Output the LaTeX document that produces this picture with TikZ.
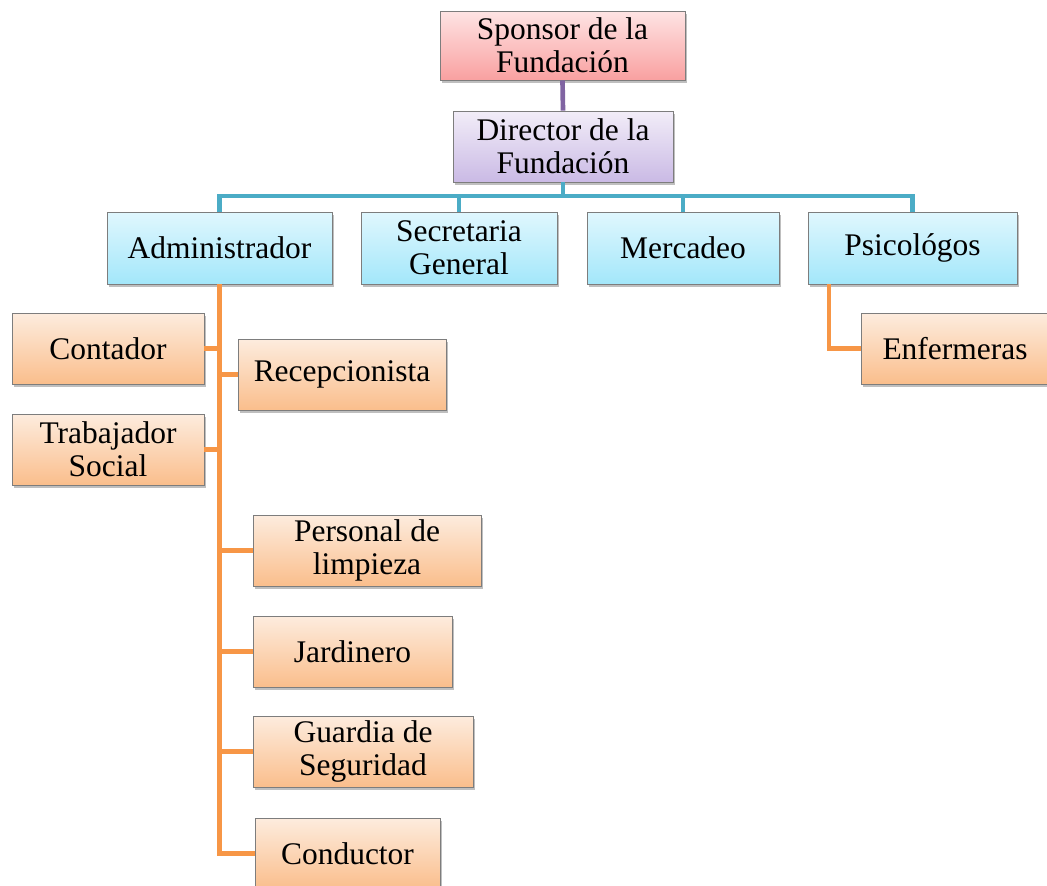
\documentclass[tikz,border=0pt]{standalone}
\usepackage{fontspec}
\setmainfont{Liberation Serif}
\usetikzlibrary{shadows}
\definecolor{pinkT}{RGB}{254,228,228}
\definecolor{pinkB}{RGB}{249,160,160}
\definecolor{purT}{RGB}{242,237,248}
\definecolor{purB}{RGB}{202,186,229}
\definecolor{bluT}{RGB}{224,247,254}
\definecolor{bluB}{RGB}{163,231,250}
\definecolor{orT}{RGB}{253,236,222}
\definecolor{orB}{RGB}{250,190,140}
\definecolor{edgeC}{RGB}{125,125,125}
\definecolor{lnPur}{RGB}{128,100,162}
\definecolor{lnBlu}{RGB}{75,172,198}
\definecolor{lnOr}{RGB}{247,150,70}
\tikzset{
  box/.style={draw=edgeC, line width=0.7pt, inner sep=0pt, align=center,
    font=\fontsize{23.6}{24.8}\selectfont,
    drop shadow={shadow xshift=1.5pt, shadow yshift=-2.5pt, opacity=0.25, fill=black}},
  pinkbox/.style={box, top color=pinkT, bottom color=pinkB},
  purbox/.style={box, top color=purT, bottom color=purB},
  blubox/.style={box, top color=bluT, bottom color=bluB},
  orbox/.style={box, top color=orT, bottom color=orB},
  sz/.style 2 args={minimum width=#1, minimum height=#2},
  purline/.style={draw=lnPur, line width=3.5pt},
  bluline/.style={draw=lnBlu, line width=3.5pt},
  orline/.style={draw=lnOr, line width=3.5pt}
}
\begin{document}
\begin{tikzpicture}[x=0.75pt, y=-0.75pt]
\useasboundingbox (0,0) rectangle (1047,886);
\coordinate (busY) at (0,196);
\node[pinkbox, sz={183.75pt}{51.75pt}] (spo) at (562.5,45.5) {Sponsor de la\\Fundación};
\node[purbox, sz={165pt}{53.25pt}] (dir) at (563,146.5) {Director de la\\Fundación};
\node[blubox, sz={168.75pt}{54pt}] (adm) at (219.5,248) {Administrador};
\node[blubox, sz={147pt}{54pt}] (sec) at (459,248) {Secretaria\\General};
\node[blubox, sz={144pt}{54pt}] (mer) at (683,248) {Mercadeo};
\node[blubox, sz={156.75pt}{54pt}] (psi) at (912.5,248) {Psicológos};
\node[orbox, sz={144pt}{53.25pt}] (con) at (108,348.5) {Contador};
\node[orbox, sz={156pt}{53.25pt}] (rec) at (342,374.5) {Recepcionista};
\node[orbox, sz={144pt}{53.25pt}] (tra) at (108,449.5) {Trabajador\\Social};
\node[orbox, sz={171pt}{53.25pt}] (per) at (367,550.5) {Personal de\\limpieza};
\node[orbox, sz={149.25pt}{53.25pt}] (jar) at (352.5,651.5) {Jardinero};
\node[orbox, sz={165pt}{53.25pt}] (gua) at (363,751.5) {Guardia de\\Seguridad};
\node[orbox, sz={138.75pt}{53.25pt}] (cdr) at (347.5,853.5) {Conductor};
\node[orbox, sz={141pt}{53.25pt}] (enf) at (955,348.5) {Enfermeras};
\coordinate (psiL) at (829,284);
\draw[purline] (spo.south) -- (dir.north);
\draw[bluline] (dir.south) -- (dir.south |- busY);
\draw[bluline] (adm.north) |- (psi.north |- busY) -- (psi.north);
\draw[bluline] (sec.north) -- (sec.north |- busY);
\draw[bluline] (mer.north) -- (mer.north |- busY);
\draw[orline] (adm.south) |- (cdr.west);
\draw[orline] (con.east) -- (con.east -| adm.south);
\draw[orline] (rec.west) -- (rec.west -| adm.south);
\draw[orline] (tra.east) -- (tra.east -| adm.south);
\draw[orline] (per.west) -- (per.west -| adm.south);
\draw[orline] (jar.west) -- (jar.west -| adm.south);
\draw[orline] (gua.west) -- (gua.west -| adm.south);
\draw[orline] (psiL) |- (enf.west);
\end{tikzpicture}
\end{document}
